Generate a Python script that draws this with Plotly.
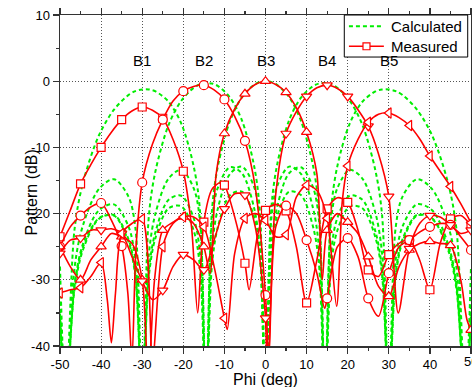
import plotly.graph_objects as go

# ---------------- data ----------------
# angle grid used for the calculated (ideal) beam patterns
calc_phi = [-50, -48.59, -46.47, -44.43, -40.54, -36.87, -33.37, -31.67, -30.0, -28.36,
            -26.74, -23.58, -20.49, -17.46, -15.96, -14.48, -13.0, -11.54, -8.63, -5.74,
            -2.87, -1.43, 0, 1.43, 2.87, 5.74, 8.63, 11.54, 13.0, 14.48,
            15.96, 17.46, 20.49, 23.58, 26.74, 28.36, 30.0, 31.67, 33.37, 36.87,
            40.54, 44.43, 46.47, 48.59, 50]

calc_b1 = [-28.0, -48, -22.4, -15.4, -8.2, -4.3, -2.1, -1.5, -1.25, -1.25,
           -1.55, -3.1, -6.4, -12.9, -19.4, -48, -20.9, -16.0, -13.0, -13.9,
           -18.9, -24.9, -48, -25.6, -20.3, -16.7, -17.2, -21.9, -27.6, -48,
           -28.0, -22.6, -18.9, -19.2, -23.6, -29.3, -48, -29.6, -24.2, -20.3,
           -20.7, -25.1, -31.0, -48, -35.1]
calc_b2 = [-33.3, -48, -28.2, -21.8, -16.3, -14.8, -17.4, -22.1, -48, -20.2,
           -13.5, -6.6, -2.95, -0.98, -0.48, -0.28, -0.36, -0.75, -2.48, -5.9,
           -12.5, -19.1, -48, -20.7, -15.8, -12.9, -14.0, -19.1, -25.1, -48,
           -25.9, -20.7, -17.3, -17.9, -22.7, -28.5, -48, -29.1, -23.8, -20.2,
           -20.8, -25.5, -31.5, -48, -35.8]
calc_b3 = [-35.3, -48, -30.7, -24.6, -19.5, -18.6, -21.9, -27.0, -48, -26.0,
           -19.9, -14.7, -13.4, -16.2, -21.0, -48, -19.3, -12.7, -6.0, -2.4,
           -0.58, -0.14, 0, -0.14, -0.58, -2.4, -6.0, -12.7, -19.3, -48,
           -21.0, -16.2, -13.4, -14.7, -19.9, -26.0, -48, -27.0, -21.9, -18.6,
           -19.5, -24.6, -30.7, -48, -35.3]
calc_b4 = [-35.8, -48, -31.5, -25.5, -20.8, -20.2, -23.8, -29.1, -48, -28.5,
           -22.7, -17.9, -17.3, -20.7, -25.9, -48, -25.1, -19.1, -14.0, -12.9,
           -15.8, -20.7, -48, -19.1, -12.5, -5.9, -2.48, -0.75, -0.36, -0.28,
           -0.48, -0.98, -2.95, -6.6, -13.5, -20.2, -48, -22.1, -17.4, -14.8,
           -16.3, -21.8, -28.2, -48, -33.3]
calc_b5 = [-35.1, -48, -31.0, -25.1, -20.7, -20.3, -24.2, -29.6, -48, -29.3,
           -23.6, -19.2, -18.9, -22.6, -28.0, -48, -27.6, -21.9, -17.2, -16.7,
           -20.3, -25.6, -48, -24.9, -18.9, -13.9, -13.0, -16.0, -20.9, -48,
           -19.4, -12.9, -6.4, -3.1, -1.55, -1.25, -1.25, -1.5, -2.1, -4.3,
           -8.2, -15.4, -22.4, -48, -28.0]

# measured beams
meas_b1_x = [-50, -47.5, -45, -42.5, -40, -37.5, -35, -32.5, -30, -27.5,
             -25, -22.5, -20, -18, -16.5, -15, -13, -11, -10, -7.5,
             -5, -4, -2, 0, 2.5, 5, 7.5, 10, 12.5, 15,
             17.5, 20, 22.5, 25, 27.5, 30, 32.5, 35, 37.5, 40,
             42.5, 45, 47.5, 50]
meas_b1_y = [-23.5, -19.5, -15.5, -12.6, -10.0, -7.7, -5.8, -4.5, -3.9, -4.4,
             -5.6, -8.8, -13.6, -22.0, -35.0, -21.3, -16.3, -15.3, -15.7, -20.5,
             -27.5, -31.5, -23.5, -19.5, -18.6, -19.6, -25.0, -33.5, -27.0, -19.3,
             -17.6, -18.3, -22.5, -28.5, -29.5, -26.2, -24.5, -24.0, -27.0, -31.5,
             -24.5, -20.8, -20.3, -21.8]

meas_b2_x = [-50, -47.5, -45, -42.5, -40, -37.5, -35, -33.5, -32.5, -31.5,
             -30, -27.5, -25, -22.5, -20, -17.5, -15, -12.5, -10, -7.5,
             -5, -2.5, 0, 0.8, 2.5, 5, 7.5, 10, 12.5, 14.4,
             15, 17.5, 20, 22.5, 25, 27.5, 30, 32.5, 35, 37.5,
             40, 42.5, 45, 47.5, 50]
meas_b2_y = [-25.0, -22.0, -20.3, -19.0, -18.4, -21.0, -24.9, -32.0, -42.0, -25.0,
             -15.3, -9.5, -5.8, -3.0, -1.5, -0.8, -0.6, -1.3, -2.75, -5.3,
             -9.0, -16.0, -32.3, -42.0, -22.0, -18.8, -20.0, -24.0, -29.0, -34.3,
             -32.8, -25.0, -23.7, -26.5, -32.8, -35.5, -29.0, -25.0, -24.0, -22.8,
             -22.0, -21.5, -21.7, -23.5, -25.5]

meas_b3_x = [-50, -47.5, -45, -42.5, -40, -37.5, -35, -32.5, -30, -28.5,
             -27, -25, -22.5, -20, -17.5, -15, -13.5, -12, -10, -7.5,
             -5, -2.5, 0, 2.5, 5, 7.5, 10, 12.5, 13.8, 15,
             17.5, 20, 22.5, 25, 27.5, 30, 32.5, 35, 37.5, 40,
             42.5, 45, 47.5, 49, 50]
meas_b3_y = [-25.0, -28.0, -30.0, -27.0, -25.0, -23.0, -23.5, -24.5, -30.0, -45.0,
             -30.0, -22.5, -21.3, -20.5, -21.5, -25.0, -29.0, -14.0, -7.9, -4.2,
             -1.9, -0.5, 0.0, -0.5, -1.7, -4.0, -7.7, -14.0, -30.0, -22.5,
             -20.0, -21.3, -23.0, -26.5, -31.0, -32.5, -28.0, -25.5, -24.5, -24.2,
             -24.5, -24.8, -30.0, -36.0, -37.6]

meas_b4_x = [-50, -47.5, -45, -42.5, -40, -37.5, -35, -32.5, -30, -27.5,
             -25, -22.5, -20, -17.5, -15, -12.5, -10, -7.5, -5, -2.5,
             -0.5, 0, 0.5, 2.5, 5, 7.5, 10, 12.5, 15, 17.5,
             20, 22.5, 25, 27.5, 30, 32.3, 35, 37.5, 40, 42.5,
             45, 47.5, 50]
meas_b4_y = [-26.0, -24.0, -23.7, -22.5, -22.5, -22.3, -23.0, -26.5, -30.2, -33.0,
             -31.6, -28.0, -26.2, -27.0, -28.5, -24.0, -19.3, -17.0, -17.2, -22.0,
             -32.0, -35.8, -45.0, -17.0, -7.9, -4.6, -2.3, -1.0, -0.6, -1.1,
             -2.3, -4.3, -6.8, -11.0, -17.4, -35.0, -25.3, -21.5, -20.3, -20.5,
             -21.7, -23.0, -22.5]

meas_b5_x = [-50, -47.5, -45, -42.5, -40, -38.5, -37.5, -36.5, -35, -32.5,
             -30, -27.5, -25, -22.5, -20, -17.5, -15, -12.5, -10, -9.3,
             -7.5, -5, -2.5, 0, 2.5, 5, 7.5, 10, 12.5, 15,
             17.3, 18.7, 20, 22.5, 25, 27.5, 30, 32.5, 35, 37.5,
             40, 42.5, 45, 47.5, 50]
meas_b5_y = [-32.0, -31.5, -31.2, -29.5, -27.4, -33.0, -39.5, -32.0, -23.0, -21.5,
             -20.8, -42.0, -25.0, -21.5, -20.5, -20.5, -22.0, -28.0, -35.8, -37.5,
             -26.0, -20.7, -20.0, -21.0, -23.5, -23.2, -17.5, -15.7, -16.5, -20.7,
             -34.0, -18.0, -12.8, -8.8, -6.2, -5.0, -4.8, -5.5, -6.7, -8.7,
             -11.3, -13.6, -15.9, -18.5, -21.4]

beam_labels = ["B1", "B2", "B3", "B4", "B5"]
beam_label_phi = [-30, -15, 0, 15, 30]
beam_label_db = [1.5, 1.5, 1.5, 1.5, 1.5]

legend_names = ["Calculated", "Measured"]

x_tickvals = [-50, -40, -30, -20, -10, 0, 10, 20, 30, 40, 50]
x_ticktext = ["-50", "-40", "-30", "-20", "-10", "0", "10", "20", "30", "40", "50"]
y_tickvals = [-40, -30, -20, -10, 0, 10]
y_ticktext = ["-40", "-30", "-20", "-10", "0", "10"]

# ---------------- styling ----------------
FONT = "Liberation Sans, Arial, Helvetica, sans-serif"
GREEN = "#00ee00"
RED = "#ff0000"
DASH = "4px,3px"

fig = go.Figure()

for ys in [calc_b1, calc_b2, calc_b3, calc_b4, calc_b5]:
    fig.add_trace(go.Scatter(
        x=calc_phi, y=ys, mode="lines", showlegend=False, hoverinfo="skip",
        line=dict(color=GREEN, width=2, dash=DASH, shape="spline", smoothing=0.9),
    ))

measured = [
    (meas_b1_x, meas_b1_y, "square", 8),
    (meas_b2_x, meas_b2_y, "circle", 9),
    (meas_b3_x, meas_b3_y, "triangle-up", 9),
    (meas_b4_x, meas_b4_y, "triangle-down", 9),
    (meas_b5_x, meas_b5_y, "triangle-left", 9),
]
for xs, ys, sym, sz in measured:
    fig.add_trace(go.Scatter(
        x=xs, y=ys, mode="lines", showlegend=False, hoverinfo="skip",
        line=dict(color=RED, width=1.6, shape="spline", smoothing=0.8),
    ))
    keep = [abs(x / 5 - round(x / 5)) < 1e-9 for x in xs]
    mx = [x for x, k in zip(xs, keep) if k]
    my = [y for y, k in zip(ys, keep) if k]
    fig.add_trace(go.Scatter(
        x=mx, y=my, mode="markers", showlegend=False, hoverinfo="skip",
        marker=dict(symbol=sym, size=sz, color="white", line=dict(color=RED, width=1.2)),
    ))

for lab, px, py in zip(beam_labels, beam_label_phi, beam_label_db):
    fig.add_annotation(x=px, y=py, text=lab, showarrow=False, xref="x", yref="y",
                       yanchor="bottom", font=dict(family=FONT, size=15, color="black"))

# ---- legend box (drawn in paper coordinates, top-right of the plot) ----
fig.add_shape(type="rect", xref="paper", yref="paper", x0=0.6917, x1=0.992, y0=0.873, y1=1.0,
              fillcolor="white", line=dict(color="black", width=1), layer="above")
fig.add_shape(type="line", xref="paper", yref="paper", x0=0.703, x1=0.788, y0=0.966, y1=0.966,
              line=dict(color=GREEN, width=2, dash=DASH), layer="above")
fig.add_shape(type="line", xref="paper", yref="paper", x0=0.703, x1=0.788, y0=0.9055, y1=0.9055,
              line=dict(color=RED, width=1.6), layer="above")
fig.add_shape(type="rect", xref="paper", yref="paper", x0=0.7372, x1=0.7542, y0=0.895, y1=0.916,
              fillcolor="white", line=dict(color=RED, width=1.2), layer="above")
for name, ly in zip(legend_names, [0.966, 0.9055]):
    fig.add_annotation(x=0.8005, y=ly, xref="paper", yref="paper", text=name, showarrow=False,
                       xanchor="left", yanchor="middle",
                       font=dict(family=FONT, size=15, color="black"))

axis_common = dict(
    showline=True, linecolor="#333", linewidth=1.5, mirror="allticks",
    ticks="outside", ticklen=6, tickwidth=1.2, tickcolor="#333",
    showgrid=True, gridcolor="#555", griddash="1px,2px", gridwidth=1,
    zeroline=False, automargin=False,
    tickfont=dict(family=FONT, size=13, color="black"),
)

fig.update_xaxes(range=[-50, 50], tickvals=x_tickvals, ticktext=x_ticktext,
                 minor=dict(dtick=5, tick0=-50, ticks="outside", ticklen=3,
                            tickcolor="#333", showgrid=False),
                 **axis_common)
fig.update_yaxes(range=[-40, 10], tickvals=y_tickvals, ticktext=y_ticktext,
                 minor=dict(dtick=5, tick0=-40, ticks="outside", ticklen=3,
                            tickcolor="#333", showgrid=False),
                 **axis_common)

# the last x tick label sits on the page edge; plotly drops it, so draw it as text
fig.add_annotation(x=x_tickvals[-1], y=-0.047, xref="x", yref="paper", text=x_ticktext[-1],
                   showarrow=False, xanchor="center", yanchor="middle",
                   font=dict(family=FONT, size=13, color="black"))

fig.add_annotation(x=-0.0706, y=0.464, xref="paper", yref="paper", text="Pattern (dB)",
                   textangle=-90, showarrow=False, xanchor="center", yanchor="middle",
                   font=dict(family=FONT, size=16, color="black"))
fig.add_annotation(x=0.5, y=-0.101, xref="paper", yref="paper", text="Phi (deg)",
                   showarrow=False, xanchor="center", yanchor="middle",
                   font=dict(family=FONT, size=16, color="black"))

fig.update_layout(
    width=472, height=387,
    margin=dict(l=60, r=1, t=15, b=41, autoexpand=False),
    paper_bgcolor="white", plot_bgcolor="white",
    font=dict(family=FONT, color="black"),
    showlegend=False,
)

fig.write_html(
    "out.html",
    config={"displayModeBar": False, "staticPlot": True},
    post_script="document.body.style.margin='0';document.body.style.overflow='hidden';",
)
